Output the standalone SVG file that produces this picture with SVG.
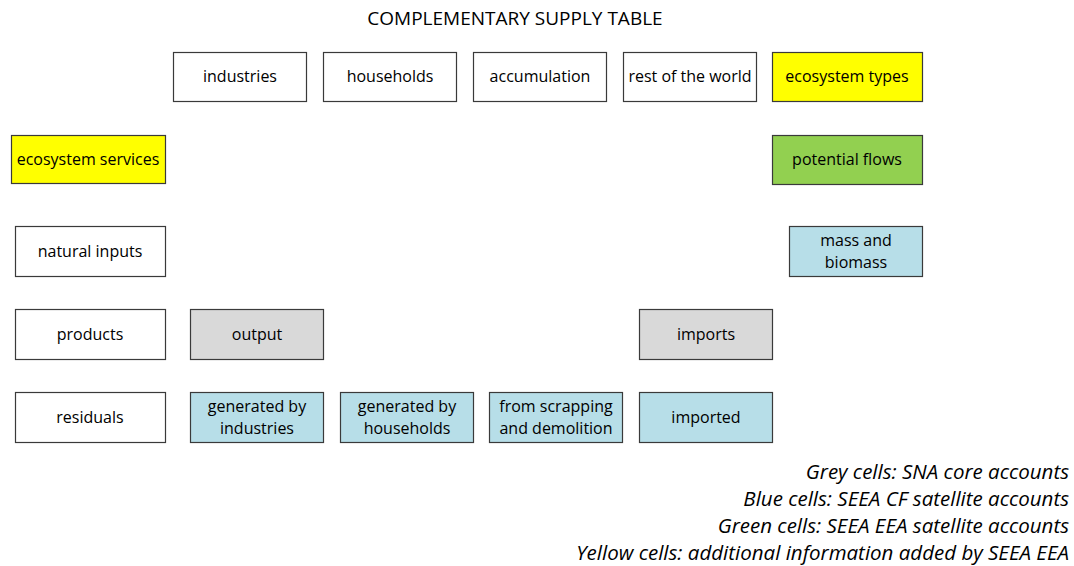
<svg xmlns="http://www.w3.org/2000/svg" width="1074" height="566" viewBox="0 0 1074 566">
<style>
.b{stroke:#3a3a3a;stroke-width:1.2}
.w{fill:#fff}.y{fill:#ffff00}.g{fill:#92d050}.bl{fill:#b7dee8}.gr{fill:#d9d9d9}
text{font-family:"Open Sans","Liberation Sans",sans-serif;font-size:16px;fill:#000;text-anchor:middle}
.t{font-size:19px}
.lg{font-size:20.5px;font-style:italic;text-anchor:end}
</style>
<rect width="1074" height="566" fill="#fff"/>
<text class="t" x="515" y="25">COMPLEMENTARY SUPPLY TABLE</text>
<g id="industries"><rect class="b w" x="173.5" y="52.5" width="133" height="49"/><text x="240" y="82">industries</text></g>
<g id="households"><rect class="b w" x="323.5" y="52.5" width="133" height="49"/><text x="390" y="82">households</text></g>
<g id="accumulation"><rect class="b w" x="473.5" y="52.5" width="133" height="49"/><text x="540" y="82">accumulation</text></g>
<g id="rest-of-world"><rect class="b w" x="623.5" y="52.5" width="133" height="49"/><text x="690" y="82">rest of the world</text></g>
<g id="ecosystem-types"><rect class="b y" x="772.5" y="52.5" width="150" height="49"/><text x="847" y="82">ecosystem types</text></g>
<g id="ecosystem-services"><rect class="b y" x="11.5" y="135.5" width="154" height="48"/><text x="88" y="165">ecosystem services</text></g>
<g id="potential-flows"><rect class="b g" x="772.5" y="135.5" width="150" height="49"/><text x="847" y="165">potential flows</text></g>
<g id="natural-inputs"><rect class="b w" x="15.5" y="226.5" width="150" height="50"/><text x="90" y="257">natural inputs</text></g>
<g id="mass-biomass"><rect class="b bl" x="789.5" y="226.5" width="133" height="50"/><text x="856" y="246">mass and</text><text x="856" y="268">biomass</text></g>
<g id="products"><rect class="b w" x="15.5" y="309.5" width="150" height="50"/><text x="90" y="340">products</text></g>
<g id="output"><rect class="b gr" x="190.5" y="309.5" width="133" height="50"/><text x="257" y="340">output</text></g>
<g id="imports"><rect class="b gr" x="639.5" y="309.5" width="133" height="50"/><text x="706" y="340">imports</text></g>
<g id="residuals"><rect class="b w" x="15.5" y="392.5" width="150" height="50"/><text x="90" y="423">residuals</text></g>
<g id="gen-industries"><rect class="b bl" x="190.5" y="392.5" width="133" height="50"/><text x="257" y="412">generated by</text><text x="257" y="434">industries</text></g>
<g id="gen-households"><rect class="b bl" x="340.5" y="392.5" width="133" height="50"/><text x="407" y="412">generated by</text><text x="407" y="434">households</text></g>
<g id="scrapping"><rect class="b bl" x="489.5" y="392.5" width="133" height="50"/><text x="556" y="412">from scrapping</text><text x="556" y="434">and demolition</text></g>
<g id="imported"><rect class="b bl" x="639.5" y="392.5" width="133" height="50"/><text x="706" y="423">imported</text></g>
<g id="connectors"></g>
<g id="legend">
<text class="lg" x="1069" y="479">Grey cells: SNA core accounts</text>
<text class="lg" x="1069" y="506">Blue cells: SEEA CF satellite accounts</text>
<text class="lg" x="1069" y="533">Green cells: SEEA EEA satellite accounts</text>
<text class="lg" x="1069" y="560">Yellow cells: additional information added by SEEA EEA</text>
</g>
</svg>
